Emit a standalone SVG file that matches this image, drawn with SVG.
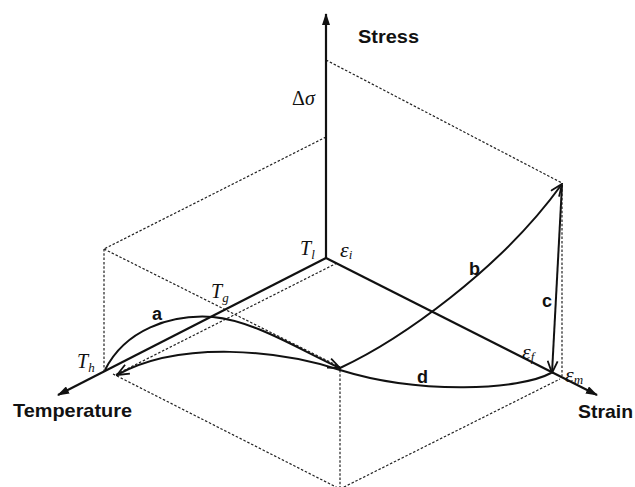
<svg xmlns="http://www.w3.org/2000/svg" width="635" height="487" viewBox="0 0 635 487">
<defs>
<marker id="tri" viewBox="0 0 12 8" refX="11" refY="4" markerWidth="12" markerHeight="8" markerUnits="userSpaceOnUse" orient="auto">
<path d="M0,0 L12,4 L0,8 Z" fill="#111"/>
</marker>
<marker id="vee" viewBox="0 0 14 12" refX="13" refY="6" markerWidth="14" markerHeight="12" markerUnits="userSpaceOnUse" orient="auto">
<path d="M1,1 L13,6 L1,11" fill="none" stroke="#111" stroke-width="1.8"/>
</marker>
</defs>
<style>
.ax{stroke:#111;stroke-width:2.2;fill:none}
.cv{stroke:#111;stroke-width:2;fill:none}
.dot{stroke:#222;stroke-width:1.2;stroke-dasharray:2.5 1.8;fill:none}
.bold{font-family:"Liberation Sans",Arial,sans-serif;font-weight:bold;fill:#111}
.it{font-family:"Liberation Serif","Times New Roman",serif;font-style:italic;fill:#111}
.up{font-family:"Liberation Serif","Times New Roman",serif;fill:#111}
</style>
<rect width="635" height="487" fill="#fff"/>
<g id="box">
<path class="dot" d="M326,137 L104,249"/>
<path class="dot" d="M104,249 L104,371"/>
<path class="dot" d="M104,249 L340,367"/>
<path class="dot" d="M340,370 L340,489"/>
<path class="dot" d="M113,374 L340,489"/>
<path class="dot" d="M340,489 L560,379"/>
<path class="dot" d="M562,185 L562,376"/>
<path class="dot" d="M326,60 L562,183"/>
<path class="dot" d="M337,263 L115,375"/>
</g>
<g id="axes">
<line class="ax" x1="326" y1="258" x2="326" y2="14" marker-end="url(#tri)"/>
<line class="ax" x1="326" y1="258" x2="58" y2="395" marker-end="url(#tri)"/>
<line class="ax" x1="326" y1="258" x2="597" y2="395" marker-end="url(#tri)"/>
</g>
<g id="connectors">
<path id="a" class="cv" d="M105,370 C125,330 170,314 213,317 C255,321 300,350 340,368" marker-end="url(#vee)"/>
<path id="b" class="cv" d="M340,368 C400,340 500,270 562,184" marker-end="url(#vee)"/>
<path id="c" class="cv" d="M562,185 L552,373" marker-end="url(#vee)"/>
<path id="d" class="cv" d="M551,373 C520,390 420,395 340,370 C280,350 180,340 117,375" marker-end="url(#vee)"/>
</g>
<g id="labels">
<text class="bold" x="358" y="43" font-size="19" textLength="61" lengthAdjust="spacingAndGlyphs">Stress</text>
<text class="bold" x="13" y="417" font-size="19" textLength="119" lengthAdjust="spacingAndGlyphs">Temperature</text>
<text class="bold" x="578" y="418" font-size="19" textLength="55" lengthAdjust="spacingAndGlyphs">Strain</text>
<text x="292" y="105" font-size="20"><tspan class="up">Δ</tspan><tspan class="it">σ</tspan></text>
<text class="it" x="300" y="255" font-size="20">T<tspan font-size="13" dy="4">l</tspan></text>
<text class="it" x="340" y="257" font-size="22">ε<tspan font-size="13" dy="2">i</tspan></text>
<text class="it" x="211" y="298" font-size="20">T<tspan font-size="13" dy="4">g</tspan></text>
<text class="it" x="77" y="368" font-size="20">T<tspan font-size="13" dy="4">h</tspan></text>
<text class="it" x="522" y="359" font-size="22">ε<tspan font-size="13" dy="2">f</tspan></text>
<text class="it" x="565" y="382" font-size="22">ε<tspan font-size="13" dy="2">m</tspan></text>
<text class="bold" x="152" y="320" font-size="18">a</text>
<text class="bold" x="469" y="275" font-size="18">b</text>
<text class="bold" x="542" y="307" font-size="18">c</text>
<text class="bold" x="417" y="383" font-size="18">d</text>
</g>
</svg>
